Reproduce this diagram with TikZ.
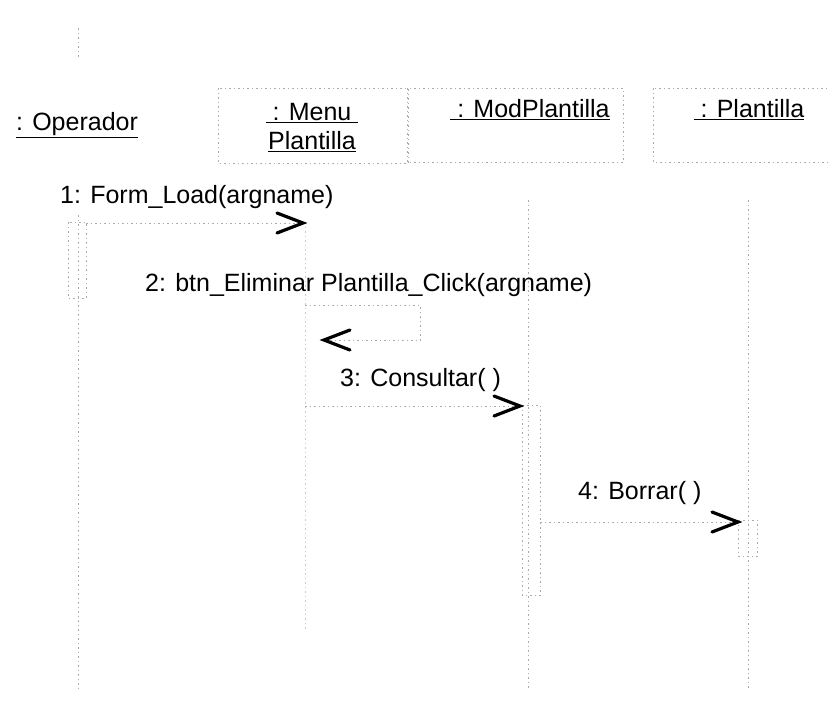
\documentclass[tikz,border=0pt]{standalone}
\usepackage{fontspec}
\setmainfont{Liberation Sans}
\tikzset{
  faint/.style={draw=gray!65, line width=0.8pt, dash pattern=on 1.5pt off 3pt},
  hdr/.style={faint},
  lbl/.style={inner sep=0pt, font=\fontsize{25}{30}\selectfont, text=black},
  msg/.style={faint},
  barb/.style={draw=black, line width=3.2pt, solid, line cap=round, line join=miter},
}
\begin{document}
\begin{tikzpicture}[x=1pt,y=-1pt]
\useasboundingbox (0,0) rectangle (828,713);
% stray marks at top left
\draw[faint] (78,28) -- (78,58);
% headers
\node[lbl] (op) at (77,125) {\underline{: Operador}};
\draw[hdr] (218,88) rectangle (408,163);
\node[lbl, align=center] (menu) at (312,128) {\underline{\ : Menu\ }\\[-1pt]\underline{Plantilla}};
\draw[hdr] (407,88) rectangle (623,162);
\node[lbl] (mod) at (530,110) {\underline{\ : ModPlantilla}};
\draw[hdr] (653,88) rectangle (828,162);
\node[lbl] (pla) at (749,110) {\underline{\ : Plantilla}};
% lifelines
\coordinate (opT) at (78,215); \coordinate (opB) at (78,690);
\coordinate (meT) at (305,222); \coordinate (meB) at (305,630);
\coordinate (moT) at (528,200); \coordinate (moB) at (528,690);
\coordinate (plT) at (748,200); \coordinate (plB) at (748,690);
\draw[faint] (opT) -- (opB);
\draw[faint, draw=gray!40] (meT) -- (meB);
\draw[faint] (moT) -- (moB);
\draw[faint] (plT) -- (plB);
% activations
\draw[faint] (68,222) rectangle (86,298);
\draw[faint] (522,405) rectangle (540,595);
\draw[faint] (738,520) rectangle (757,556);
% messages
\coordinate (m1a) at (86,223); \coordinate (m1b) at (305,223);
\draw[msg] (m1a) -- (m1b);
\draw[barb, shift={(m1b)}] (-28,-10) -- (-2,0) -- (-28,10);
\node[lbl, anchor=west] (l1) at (60,197) {1: Form\_Load(argname)};
\coordinate (m2a) at (305,305); \coordinate (m2b) at (322,340);
\draw[msg] (m2a) -- (420,305) -- (420,340) -- (m2b);
\draw[barb, shift={(m2b)}] (28,-10) -- (2,0) -- (28,10);
\node[lbl, anchor=west] (l2) at (145,285) {2: btn\_Eliminar Plantilla\_Click(argname)};
\coordinate (m3a) at (305,406); \coordinate (m3b) at (522,406);
\draw[msg] (m3a) -- (m3b);
\draw[barb, shift={(m3b)}] (-28,-10) -- (-2,0) -- (-28,10);
\node[lbl, anchor=west] (l3) at (340,380) {3: Consultar( )};
\coordinate (m4a) at (540,522); \coordinate (m4b) at (740,522);
\draw[msg] (m4a) -- (m4b);
\draw[barb, shift={(m4b)}] (-28,-10) -- (-2,0) -- (-28,10);
\node[lbl, anchor=west] (l4) at (578,493) {4: Borrar( )};
\end{tikzpicture}
\end{document}
